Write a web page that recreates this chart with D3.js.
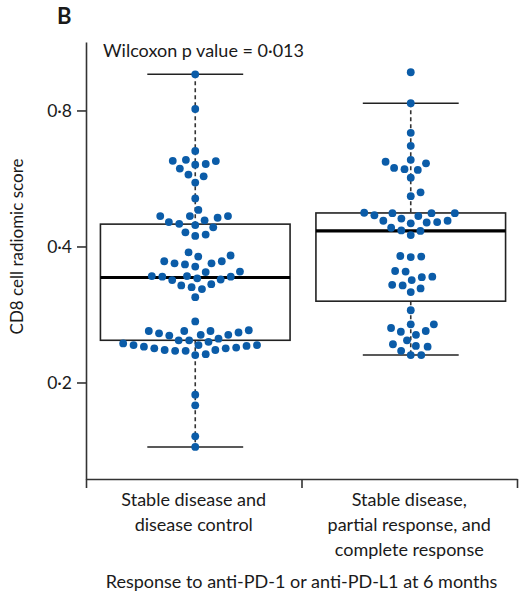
<html>
  <script src="https://d3js.org/d3.v7.min.js"></script>
  <style>
    body { margin: 0; background: #fff; }
    text { font-family: Lato, sans-serif; fill: #1a1a1a; }
  </style>
  <body>
    <svg id="vis" width="524" height="595"></svg>
    <script>
      // response groups (x axis)
      const groups = [
        ["Stable disease and", "disease control"],
        ["Stable disease,", "partial response, and", "complete response"]
      ]

      // CD8 cell radiomic score
      const scoresStable = [
        0.962, 0.806, 0.651, 0.622, 0.619, 0.618, 0.609, 0.607, 0.595, 0.577,
        0.572, 0.554, 0.511, 0.482, 0.467, 0.467, 0.467, 0.463, 0.457, 0.453,
        0.449, 0.446, 0.441, 0.430, 0.425, 0.422, 0.388, 0.382, 0.380, 0.371,
        0.371, 0.367, 0.367, 0.365, 0.361, 0.352, 0.351, 0.344, 0.344, 0.343,
        0.343, 0.340, 0.338, 0.337, 0.330, 0.328, 0.325, 0.322, 0.309, 0.273,
        0.261, 0.260, 0.260, 0.260, 0.258, 0.257, 0.255, 0.255, 0.254, 0.250,
        0.248, 0.248, 0.246, 0.244, 0.242, 0.242, 0.242, 0.241, 0.240, 0.239,
        0.238, 0.238, 0.236, 0.236, 0.235, 0.235, 0.231, 0.230, 0.188, 0.178,
        0.152, 0.144
      ]
      const scoresResponse = [
        0.972, 0.830, 0.714, 0.668, 0.622, 0.616, 0.611, 0.597, 0.593, 0.591,
        0.568, 0.527, 0.517, 0.475, 0.474, 0.474, 0.474, 0.469, 0.467, 0.461,
        0.456, 0.456, 0.453, 0.452, 0.450, 0.440, 0.434, 0.433, 0.424, 0.381,
        0.380, 0.379, 0.353, 0.352, 0.343, 0.342, 0.337, 0.329, 0.328, 0.323,
        0.317, 0.289, 0.269, 0.269, 0.264, 0.260, 0.259, 0.255, 0.248, 0.243,
        0.241, 0.240, 0.235, 0.230, 0.230
      ]
      const series = [scoresStable, scoresResponse]

      const yTicks = [0.2, 0.4, 0.8]
      const yLabel = "CD8 cell radiomic score"
      const xTitle = "Response to anti-PD-1 or anti-PD-L1 at 6 months"
      const note = "Wilcoxon p value = 0\u00b7013"

      const dotColor = '#0b5ca8'
      const ink = '#222'

      const svg = d3.select("#vis")

      const y = d3.scaleLog()
        .domain([0.1223, 1.134])
        .range([479, 42])

      const x = d3.scaleLinear()
        .domain([0, groups.length])
        .range([86, 517])

      const band = x(1) - x(0)
      const boxW = band * 0.88
      const capW = band * 0.445

      // y axis
      svg.append("g")
        .attr("transform", `translate(${x(0)},0)`)
        .call(d3.axisLeft(y).tickValues(yTicks).tickSize(9).tickSizeOuter(0).tickPadding(5)
          .tickFormat(d => String(d).replace(".", "\u00b7")))
        .call(g => g.selectAll("path, line").attr("stroke", "#333").attr("stroke-width", 1.6))
        .call(g => g.selectAll("text").attr("font-family", "Lato, sans-serif")
          .attr("font-size", 17.5).attr("fill", "#1a1a1a"))

      // x axis, ticks between groups
      svg.append("g")
        .attr("transform", `translate(0,${y.range()[0]})`)
        .call(d3.axisBottom(x).tickValues(d3.range(groups.length + 1))
          .tickSize(9).tickSizeOuter(0).tickFormat(""))
        .call(g => g.selectAll("path, line").attr("stroke", "#333").attr("stroke-width", 1.6))

      // beeswarm layout, lowest values first, like R beeswarm "swarm"
      function swarm(py, spacing) {
        const order = d3.range(py.length).sort((a, b) => py[b] - py[a])
        const placed = []
        const out = new Array(py.length)
        for (const i of order) {
          const yy = py[i]
          const near = placed.filter(p => Math.abs(p.y - yy) < spacing)
          const cands = [0]
          near.forEach(p => cands.push(p.x + Math.sqrt(spacing * spacing - (p.y - yy) ** 2)))
          near.forEach(p => cands.push(p.x - Math.sqrt(spacing * spacing - (p.y - yy) ** 2)))
          let best = Infinity
          for (const c of cands) {
            const ok = near.every(p => (p.x - c) ** 2 + (p.y - yy) ** 2 >= spacing * spacing - 1e-6)
            if (ok && Math.abs(c) < Math.abs(best)) best = c
          }
          out[i] = best
          placed.push({x: best, y: yy})
        }
        return out
      }

      series.forEach((vals, gi) => {
        const cx = x(gi + 0.5) + 1.5
        const logs = vals.map(Math.log).sort(d3.ascending)
        const q1 = d3.quantile(logs, 0.25)
        const med = d3.quantile(logs, 0.5)
        const q3 = d3.quantile(logs, 0.75)
        const iqr = q3 - q1
        const hi = d3.max(logs.filter(v => v <= q3 + 1.5 * iqr))
        const lo = d3.min(logs.filter(v => v >= q1 - 1.5 * iqr))
        const Y = v => y(Math.exp(v))

        const g = svg.append("g")

        // whiskers
        g.append("line")
          .attr("x1", cx).attr("x2", cx)
          .attr("y1", Y(hi)).attr("y2", Y(q3))
          .attr("stroke", "#333").attr("stroke-width", 1.6).attr("stroke-dasharray", "4,3")
        g.append("line")
          .attr("x1", cx).attr("x2", cx)
          .attr("y1", Y(q1)).attr("y2", Y(lo))
          .attr("stroke", "#333").attr("stroke-width", 1.6).attr("stroke-dasharray", "4,3")
        ;[hi, lo].forEach(v => {
          g.append("line")
            .attr("x1", cx - capW / 2).attr("x2", cx + capW / 2)
            .attr("y1", Y(v)).attr("y2", Y(v))
            .attr("stroke", ink).attr("stroke-width", 1.6)
        })

        // box
        g.append("rect")
          .attr("x", cx - boxW / 2)
          .attr("y", Y(q3))
          .attr("width", boxW)
          .attr("height", Y(q1) - Y(q3))
          .attr("fill", "none")
          .attr("stroke", ink)
          .attr("stroke-width", 1.6)

        g.append("line")
          .attr("x1", cx - boxW / 2).attr("x2", cx + boxW / 2)
          .attr("y1", Y(med)).attr("y2", Y(med))
          .attr("stroke", "#000").attr("stroke-width", 3.2)

        // dots
        const py = vals.map(v => y(v))
        const off = swarm(py, 10.5)
        g.selectAll("circle")
          .data(vals)
          .join("circle")
          .attr("cx", (d, i) => cx + off[i])
          .attr("cy", d => y(d))
          .attr("r", 3.9)
          .attr("fill", dotColor)
      })

      // category labels
      groups.forEach((lines, gi) => {
        const t = svg.append("text")
          .attr("x", x(gi + 0.5))
          .attr("y", 505.5)
          .attr("text-anchor", "middle")
          .attr("font-size", 18)
        lines.forEach((l, li) => {
          t.append("tspan")
            .attr("x", x(gi + 0.5))
            .attr("dy", li === 0 ? 0 : 25)
            .text(l)
        })
      })

      svg.append("text")
        .attr("x", (x.range()[0] + x.range()[1]) / 2)
        .attr("y", 588)
        .attr("text-anchor", "middle")
        .attr("font-size", 18)
        .text(xTitle)

      svg.append("text")
        .attr("transform", `translate(23,${y(0.4)}) rotate(-90)`)
        .attr("text-anchor", "middle")
        .attr("font-size", 17)
        .text(yLabel)

      svg.append("text")
        .attr("x", 103)
        .attr("y", 56.5)
        .attr("font-size", 18)
        .text(note)

      svg.append("text")
        .attr("x", 57)
        .attr("y", 24)
        .attr("font-size", 22)
        .attr("font-weight", "bold")
        .text("B")
    </script>
  </body>
</html>
